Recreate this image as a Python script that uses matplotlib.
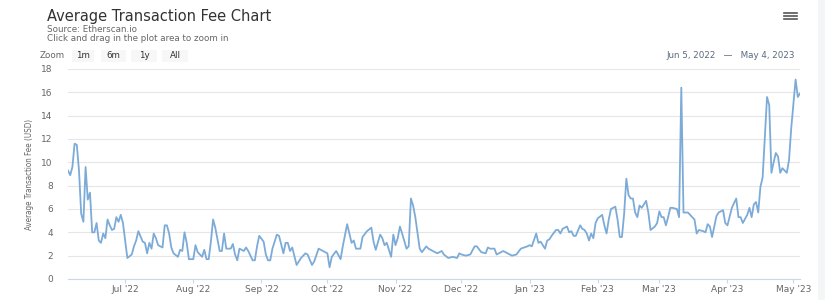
import matplotlib
matplotlib.use("Agg")
import matplotlib.pyplot as plt
import matplotlib.dates as mdates
from matplotlib.patches import FancyBboxPatch
import datetime as dt

start = dt.date(2022, 6, 5)
end = dt.date(2023, 5, 4)

# days after Jun 5, 2022 and the average fee (USD)
day = [0, 1, 2, 3, 4, 5, 6, 7, 8, 9, 10, 11, 12, 13, 14, 15, 16, 17, 18, 19,
       20, 21, 22, 23, 24, 25, 27, 29, 30, 31, 32, 34, 35, 36, 37, 38, 39, 40, 41, 43,
       44, 45, 46, 47, 48, 50, 51, 52, 53, 54, 55, 57, 58, 59, 61, 62, 63, 64, 65, 66,
       67, 69, 70, 71, 72, 74, 75, 76, 77, 78, 80, 81, 82, 84, 85, 86, 87, 89, 90, 91,
       92, 93, 95, 96, 98, 99, 100, 101, 102, 104, 106, 108, 109, 111, 112, 114, 116, 118, 119, 120,
       122, 124, 125, 127, 129, 130, 131, 133, 134, 136, 138, 139, 140, 142, 143, 144, 145, 147, 148, 149,
       150, 151, 152, 154, 155, 156, 157, 158, 160, 161, 163, 164, 166, 168, 170, 171, 173, 175, 177, 178,
       179, 181, 183, 185, 186, 188, 190, 191, 192, 194, 195, 196, 198, 200, 202, 204, 206, 209, 210, 211,
       213, 214, 215, 217, 218, 219, 220, 222, 223, 224, 225, 227, 228, 229, 230, 231, 233, 234, 235, 236,
       237, 238, 239, 240, 241, 243, 244, 245, 246, 247, 249, 250, 251, 252, 253, 254, 255, 256, 257, 258,
       259, 260, 261, 263, 264, 265, 267, 268, 269, 270, 271, 272, 273, 274, 275, 277, 278, 279, 280, 281,
       282, 284, 285, 286, 287, 289, 290, 291, 292, 293, 295, 296, 298, 299, 300, 302, 304, 305, 306, 307,
       309, 310, 311, 312, 313, 314, 315, 316, 318, 319, 320, 321, 322, 323, 324, 325, 327, 328, 329, 331,
       332, 333]
fee = [9.3, 8.9, 9.6, 11.6, 11.5, 9.3, 5.6, 4.9, 9.6, 6.8, 7.4, 4.0, 4.0, 4.8, 3.3, 3.1, 3.9, 3.5, 5.1, 4.6,
       4.2, 4.3, 5.3, 4.9, 5.5, 4.8, 1.8, 2.1, 2.8, 3.3, 4.1, 3.2, 3.1, 2.2, 3.1, 2.6, 3.9, 3.5, 2.9, 2.7,
       4.6, 4.6, 3.9, 2.7, 2.2, 1.9, 2.5, 2.4, 4.0, 3.1, 1.7, 1.7, 2.9, 2.3, 1.9, 2.5, 1.7, 1.7, 3.2, 5.1,
       4.4, 2.4, 2.4, 3.9, 2.6, 2.6, 3.0, 2.1, 1.6, 2.6, 2.4, 2.7, 2.4, 1.6, 1.6, 2.8, 3.7, 3.2, 2.1, 1.6,
       1.6, 2.6, 3.8, 3.7, 2.2, 3.1, 3.1, 2.4, 2.7, 1.2, 1.8, 2.2, 2.1, 1.2, 1.5, 2.6, 2.4, 2.2, 1.0, 1.9,
       2.4, 1.7, 2.8, 4.7, 3.1, 3.3, 2.6, 2.6, 3.6, 4.1, 4.4, 3.2, 2.5, 3.8, 3.5, 2.9, 3.1, 1.9, 3.8, 2.9,
       3.5, 4.5, 3.9, 2.6, 2.8, 6.9, 6.3, 5.3, 2.6, 2.3, 2.8, 2.6, 2.4, 2.2, 2.4, 2.1, 1.8, 1.9, 1.8, 2.2,
       2.1, 2.0, 2.1, 2.8, 2.8, 2.3, 2.2, 2.7, 2.6, 2.6, 2.1, 2.2, 2.4, 2.2, 2.0, 2.1, 2.6, 2.8, 2.9, 2.8,
       3.9, 3.1, 3.2, 2.6, 3.3, 3.4, 3.7, 4.2, 4.2, 3.9, 4.3, 4.5, 4.0, 4.1, 3.7, 3.7, 4.6, 4.3, 4.2, 3.9,
       3.3, 3.9, 3.5, 4.8, 5.2, 5.5, 4.6, 3.9, 5.1, 6.0, 6.2, 5.1, 3.6, 3.6, 5.6, 8.6, 7.2, 6.9, 6.9, 5.7,
       5.3, 6.3, 6.1, 6.7, 5.7, 4.2, 4.5, 4.8, 5.8, 5.3, 5.3, 4.6, 5.3, 6.1, 6.1, 6.0, 5.3, 16.4, 5.7, 5.7,
       5.7, 5.3, 5.1, 3.9, 4.2, 4.1, 4.0, 4.7, 4.5, 3.6, 5.4, 5.7, 5.9, 4.8, 4.6, 6.1, 6.9, 5.3, 5.3, 4.8,
       5.5, 6.1, 5.3, 6.4, 6.6, 5.7, 7.9, 8.7, 15.6, 14.9, 9.1, 10.0, 10.8, 10.5, 9.1, 9.5, 9.1, 10.2, 12.9, 17.1,
       15.6, 15.9]

dates = [start + dt.timedelta(days=d) for d in day]
yticks = list(range(0, 19, 2))

plt.rcParams['font.family'] = ['DejaVu Sans']

fig = plt.figure(figsize=(8.25, 3), dpi=100)
fig.patch.set_facecolor('white')

ax = fig.add_axes([68/825, 1-279/300, 732/825, 210/300])
ax.plot(dates, fee, color='#7cabd8', linewidth=1.3, solid_joinstyle='round')
ax.set_xlim(start, end)
ax.set_ylim(0, 18)
ax.set_yticks(yticks)
ax.grid(axis='y', color='#e6e6e6', linewidth=0.8)
ax.set_axisbelow(True)
for s in ['top', 'right', 'left']:
    ax.spines[s].set_visible(False)
ax.spines['bottom'].set_color('#ccd6eb')
ax.spines['bottom'].set_linewidth(0.8)
ax.xaxis.set_major_locator(mdates.MonthLocator())
ax.xaxis.set_major_formatter(mdates.DateFormatter("%b '%y"))
ax.tick_params(axis='x', colors='#ccd6eb', length=3, width=0.8, labelcolor='#666666', labelsize=6.5, pad=1.5)
ax.tick_params(axis='y', length=0, labelcolor='#666666', labelsize=6.5, pad=11)
ax.set_ylabel('Average Transaction Fee (USD)', fontsize=5.8, color='#666666',
              fontstretch='condensed', labelpad=5)

fig.text(47/825, 1-16/300, 'Average Transaction Fee Chart', fontsize=10.5, color='#333333', va='center')
fig.text(47/825, 1-30/300, 'Source: Etherscan.io', fontsize=6.3, color='#666666', va='center')
fig.text(47/825, 1-38.5/300, 'Click and drag in the plot area to zoom in', fontsize=6.3, color='#666666', va='center')

fig.text(40/825, 1-56/300, 'Zoom', fontsize=6.3, color='#666666', va='center')
buttons = ['1m', '6m', '1y', 'All']
bx = [72, 101, 131, 162]
bw = [22, 25, 26, 26]
for b, x0, w in zip(buttons, bx, bw):
    fig.patches.append(FancyBboxPatch((x0/825, 1-62/300), w/825, 12/300, boxstyle='square,pad=0',
                                      transform=fig.transFigure, facecolor='#f7f7f7', edgecolor='none'))
    fig.text((x0 + w/2)/825, 1-56/300, b, fontsize=6.3, color='#333333', va='center', ha='center')

fig.text(795/825, 1-56/300, 'Jun 5, 2022   \u2014   May 4, 2023', fontsize=6.3, color='#5a6a80',
         va='center', ha='right')

for yy in [12.5, 15.5, 18.5]:
    fig.add_artist(plt.Line2D([784/825, 797/825], [1-yy/300, 1-yy/300], color='#555555', linewidth=1.2))

fig.patches.append(FancyBboxPatch((818/825, 0), 7/825, 1, boxstyle='square,pad=0',
                                  transform=fig.transFigure, facecolor='#f4f5f7', edgecolor='none'))

fig.savefig('out.png', dpi=100, facecolor='white')
